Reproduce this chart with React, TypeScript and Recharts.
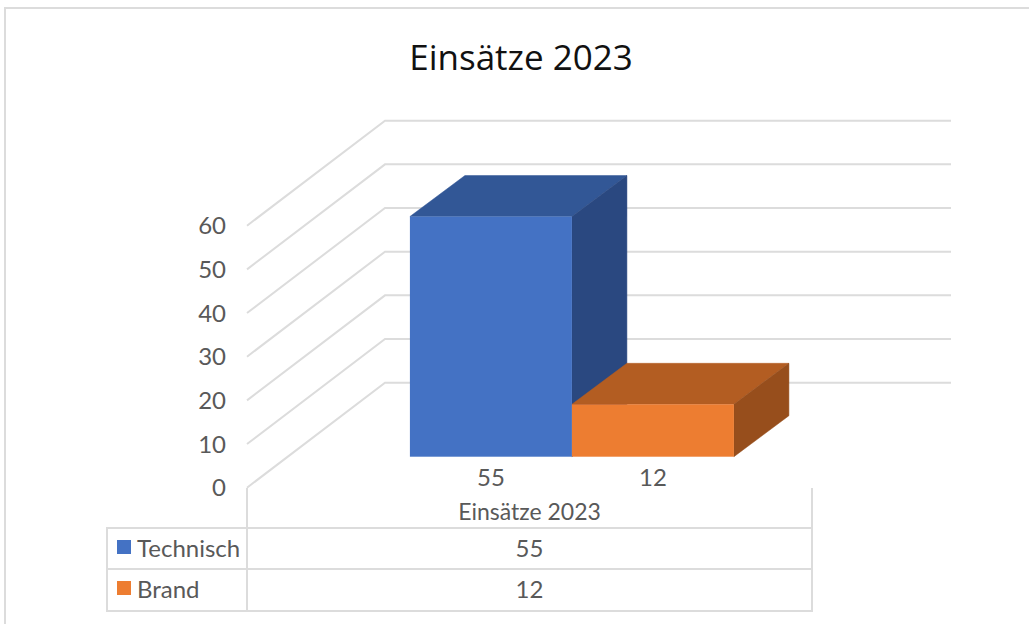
import { Bar, BarChart, CartesianGrid, XAxis, YAxis } from "recharts";

const categories = ["Einsätze 2023"];
const seriesNames = ["Technisch", "Brand"];
const technischValues = [55];
const brandValues = [12];
const yTicks = [0, 10, 20, 30, 40, 50, 60];

const blue = { front: "#4472C4", top: "#325796", side: "#2A4880" };
const orange = { front: "#ED7D31", top: "#B35D22", side: "#974E1C" };
const legendColors = [blue.front, orange.front];
const tableValues = [technischValues, brandValues];

const data = categories.map((name, i) => ({
  name,
  Technisch: technischValues[i],
  Brand: brandValues[i],
}));

const GRID = "#DCDCDC";
const LABEL = "#595959";
const FONT = "Lato, sans-serif";

// wall projection: front plane to back wall
const WALL_DX = 138;
const WALL_DY = 105;
const WALL_W = 566;
// bars stand partway into the floor, with their own depth
const BAR_DX = 42;
const BAR_DY = 31;
const DEPTH_DX = 55;
const DEPTH_DY = 41;

function WallLine(props: any) {
  const { x1, y1 } = props;
  const bx = x1 + WALL_DX;
  const by = y1 - WALL_DY;
  return (
    <polyline
      key={props.key ?? y1}
      points={`${x1},${y1} ${bx},${by} ${bx + WALL_W},${by}`}
      fill="none"
      stroke={GRID}
      strokeWidth={2}
    />
  );
}

function bar3d(colors: typeof blue) {
  return function Bar3d(props: any) {
    const { x, y, width, height, value } = props;
    const l = x + BAR_DX;
    const r = l + width;
    const t = y - BAR_DY;
    const b = t + height;
    return (
      <g>
        <polygon
          points={`${l},${t} ${l + DEPTH_DX},${t - DEPTH_DY} ${r + DEPTH_DX},${t - DEPTH_DY} ${r},${t}`}
          fill={colors.top}
          stroke={colors.top}
          strokeWidth={0.5}
        />
        <polygon
          points={`${r},${t} ${r + DEPTH_DX},${t - DEPTH_DY} ${r + DEPTH_DX},${b - DEPTH_DY} ${r},${b}`}
          fill={colors.side}
          stroke={colors.side}
          strokeWidth={0.5}
        />
        <rect x={l} y={t} width={width} height={height} fill={colors.front} />
        <text
          x={l + width / 2}
          y={b + 29}
          textAnchor="middle"
          fontFamily={FONT}
          fontSize={24}
          fill={LABEL}
        >
          {value}
        </text>
      </g>
    );
  };
}

function Line({ x, y, w, h }: { x: number; y: number; w: number; h: number }) {
  return (
    <div
      style={{ position: "absolute", left: x, top: y, width: w, height: h, background: GRID }}
    />
  );
}

function DataTable() {
  const rowTops = [528, 569];
  return (
    <>
      <Line x={107} y={527} w={706} h={2} />
      <Line x={107} y={568} w={706} h={2} />
      <Line x={107} y={610} w={706} h={2} />
      <Line x={106} y={527} w={2} h={85} />
      <Line x={246} y={488} w={2} h={124} />
      <Line x={811} y={488} w={2} h={124} />
      {seriesNames.map((name, i) => (
        <div key={name}>
          <div
            style={{
              position: "absolute",
              left: 117,
              top: rowTops[i] + 12,
              width: 14,
              height: 14,
              background: legendColors[i],
            }}
          />
          <div
            style={{
              position: "absolute",
              left: 137,
              top: rowTops[i],
              height: 41,
              lineHeight: "39px",
              fontFamily: FONT,
              fontSize: 24,
              color: LABEL,
            }}
          >
            {name}
          </div>
          <div
            style={{
              position: "absolute",
              left: 247,
              width: 565,
              top: rowTops[i],
              height: 41,
              lineHeight: "39px",
              textAlign: "center",
              fontFamily: FONT,
              fontSize: 24,
              color: LABEL,
            }}
          >
            {tableValues[i][0]}
          </div>
        </div>
      ))}
    </>
  );
}

export default function App() {
  return (
    <div
      style={{
        position: "absolute",
        left: 0,
        top: 0,
        width: 1029,
        height: 624,
        background: "#fff",
        overflow: "hidden",
      }}
    >
      <Line x={4} y={7} w={1025} h={2} />
      <Line x={4} y={7} w={2} h={617} />
      <div
        style={{
          position: "absolute",
          left: 0,
          top: 32,
          width: 1042,
          textAlign: "center",
          fontFamily: "'Open Sans', sans-serif",
          fontSize: 35,
          lineHeight: "50px",
          color: "#111",
        }}
      >
        Einsätze 2023
      </div>
      <BarChart
        width={1029}
        height={624}
        data={data}
        margin={{ top: 225.7, right: 217, bottom: 96.3, left: 187 }}
        barGap={0}
        barCategoryGap="21.4%"
        style={{ position: "absolute", left: 0, top: 0 }}
      >
        <CartesianGrid horizontal={WallLine} vertical={false} />
        <XAxis
          dataKey="name"
          height={40}
          axisLine={false}
          tickLine={false}
          tickMargin={10}
          tick={{ fontFamily: FONT, fontSize: 23, fill: LABEL }}
        />
        <YAxis
          width={60}
          domain={[0, 60]}
          ticks={yTicks}
          interval={0}
          axisLine={false}
          tickLine={false}
          tickSize={0}
          tickMargin={21}
          tick={{ fontFamily: FONT, fontSize: 24, fill: LABEL }}
        />
        <Bar dataKey="Technisch" shape={bar3d(blue)} isAnimationActive={false} />
        <Bar dataKey="Brand" shape={bar3d(orange)} isAnimationActive={false} />
      </BarChart>
      <DataTable />
    </div>
  );
}
